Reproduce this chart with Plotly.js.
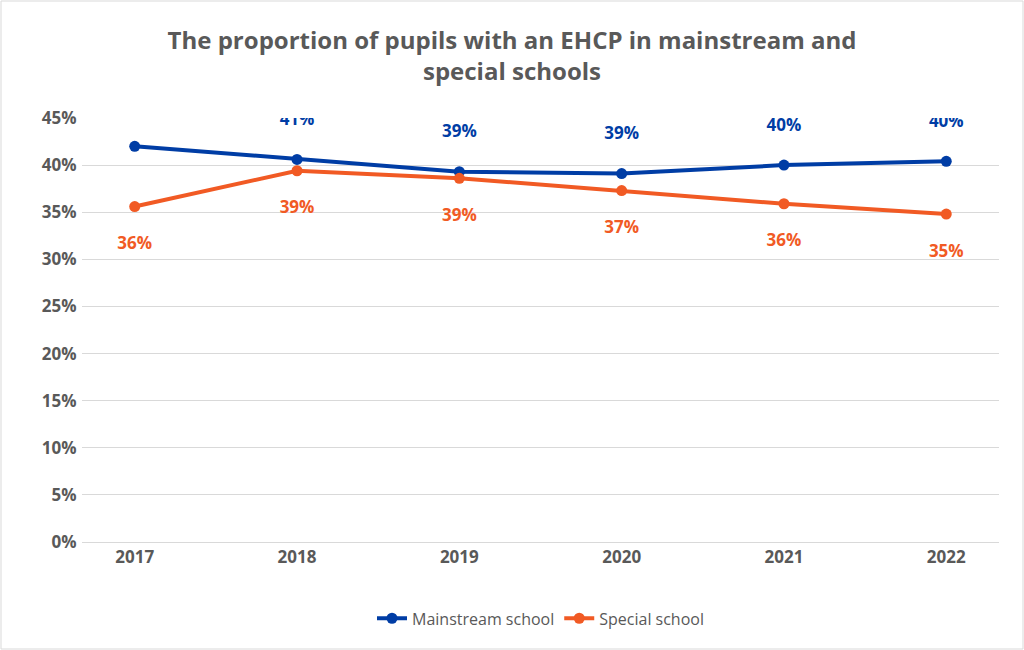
<!DOCTYPE html>
<html>
<head>
<meta charset="utf-8">
<script src="https://cdn.plot.ly/plotly-3.0.1.min.js"></script>
<style>body{margin:0;background:#fff}#chart{width:1024px;height:650px}</style>
</head>
<body>
<div id="chart"></div>
<script>
var years = ['2017', '2018', '2019', '2020', '2021', '2022'];
var mainstream = [0.420, 0.406, 0.393, 0.391, 0.400, 0.404];
var special = [0.356, 0.394, 0.386, 0.373, 0.359, 0.348];

var blue = '#003da5';
var orange = '#f15a24';

var traces = [
  {
    x: years, y: mainstream, name: 'Mainstream school', type: 'scatter',
    mode: 'lines+markers+text', texttemplate: '%{y:.0%}<br> ', textposition: 'top center',
    textfont: {color: blue, size: 17, family: 'Open Sans', weight: 'bold'},
    line: {color: blue, width: 4}, marker: {color: blue, size: 11}
  },
  {
    x: years, y: special, name: 'Special school', type: 'scatter',
    mode: 'lines+markers+text', texttemplate: ' <br>%{y:.0%}', textposition: 'bottom center',
    textfont: {color: orange, size: 17, family: 'Open Sans', weight: 'bold'},
    line: {color: orange, width: 4}, marker: {color: orange, size: 11}
  }
];

var L = 82, R = 25, T = 118, B = 108;
var W = 1024 - L - R, H = 650 - T - B;

var layout = {
  width: 1024, height: 650,
  font: {family: 'Open Sans', color: '#595959'},
  title: {
    text: '<b>The proportion of pupils with an EHCP in mainstream and<br>special schools</b>',
    font: {size: 24, color: '#595959'}, x: 0.5, y: 0.925
  },
  margin: {l: L, r: R, t: T, b: B},
  xaxis: {
    type: 'category', showgrid: false, showline: true, linecolor: '#d9d9d9',
    tickfont: {size: 17, color: '#595959', weight: 'bold'}, ticks: ''
  },
  yaxis: {
    range: [0, 0.45], dtick: 0.05, tickformat: '.0%', gridcolor: '#d9d9d9',
    zeroline: false, tickfont: {size: 17, color: '#595959', weight: 'bold'}, ticksuffix: ' '
  },
  legend: {
    orientation: 'h', x: 0.5, xanchor: 'center', y: -0.14, yanchor: 'top',
    font: {size: 16, color: '#595959'}
  },
  showlegend: true,
  shapes: [{type: 'rect', xref: 'paper', yref: 'paper',
    x0: -(L - 1) / W, x1: 1 + (R - 1) / W, y0: -(B - 1) / H, y1: 1 + (T - 1) / H,
    line: {color: '#d9d9d9', width: 1}}]
};

Plotly.newPlot('chart', traces, layout, {displayModeBar: false, staticPlot: true});
</script>
</body>
</html>
